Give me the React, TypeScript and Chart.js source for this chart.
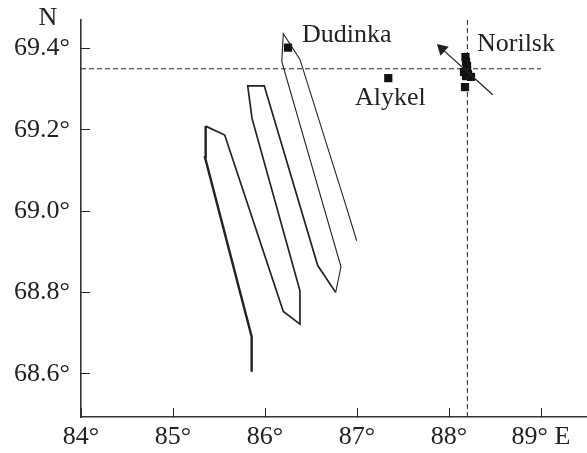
import React, { useEffect, useRef } from "react";
import { Chart, registerables } from "chart.js";

Chart.register(...registerables);

const xTicks = [84, 85, 86, 87, 88, 89];
const yTicks = [68.6, 68.8, 69.0, 69.2, 69.4];
const trackThick = [
  { x: 85.855, y: 68.605 }, { x: 85.855, y: 68.691 }, { x: 85.348, y: 69.132 }, { x: 85.355, y: 69.209 },
];
const trackMedium = [
  { x: 85.355, y: 69.209 }, { x: 85.562, y: 69.187 }, { x: 86.199, y: 68.753 }, { x: 86.38, y: 68.722 },
  { x: 86.38, y: 68.804 }, { x: 85.859, y: 69.228 }, { x: 85.812, y: 69.308 }, { x: 85.992, y: 69.308 },
  { x: 86.573, y: 68.866 }, { x: 86.768, y: 68.8 },
];
const trackThin = [
  { x: 86.768, y: 68.8 }, { x: 86.826, y: 68.863 }, { x: 86.182, y: 69.368 }, { x: 86.199, y: 69.436 },
  { x: 86.38, y: 69.373 }, { x: 86.87, y: 69.02 }, { x: 86.997, y: 68.927 },
];
const refHorizontal = [{ x: 84, y: 69.35 }, { x: 89, y: 69.35 }];
const refVertical = [{ x: 88.2, y: 68.4935 }, { x: 88.2, y: 69.47 }];
const cityPoints = [
  { x: 86.25, y: 69.402 }, { x: 87.34, y: 69.327 },
  { x: 88.179, y: 69.379 }, { x: 88.185, y: 69.367 }, { x: 88.196, y: 69.357 }, { x: 88.196, y: 69.347 },
  { x: 88.163, y: 69.342 }, { x: 88.207, y: 69.337 }, { x: 88.239, y: 69.33 }, { x: 88.185, y: 69.332 },
  { x: 88.174, y: 69.305 },
];
const windArrow = [{ x: 88.475, y: 69.286 }, { x: 87.924, y: 69.399 }];
const cityLabels = [
  { text: "Dudinka", x: 86.402, y: 69.433 },
  { text: "Alykel", x: 86.978, y: 69.278 },
  { text: "Norilsk", x: 88.304, y: 69.411 },
];

const FONT = '"Liberation Serif"';
const INK = "#222222";

const labelsPlugin = {
  id: "cityText",
  afterDatasetsDraw(chart: any) {
    const { ctx, scales } = chart;
    ctx.save();
    ctx.fillStyle = INK;
    ctx.font = `26px ${FONT}`;
    ctx.textBaseline = "middle";
    ctx.textAlign = "left";
    cityLabels.forEach((l) => ctx.fillText(l.text, scales.x.getPixelForValue(l.x), scales.y.getPixelForValue(l.y)));
    ctx.textAlign = "center";
    ctx.fillText("N", 48, 18);
    ctx.restore();
  },
};

export default function App() {
  const ref = useRef<HTMLCanvasElement>(null);
  useEffect(() => {
    const line = (data: any[], borderWidth: number, extra: any = {}) => ({
      type: "scatter",
      data,
      showLine: true,
      borderColor: INK,
      backgroundColor: INK,
      borderWidth,
      pointRadius: 0,
      tension: 0,
      ...extra,
    });
    const chart = new Chart(ref.current as HTMLCanvasElement, {
      type: "scatter",
      data: {
        datasets: [
          line(refHorizontal, 1, { borderDash: [5, 3] }),
          line(refVertical, 1, { borderDash: [5, 3] }),
          line(trackThick, 2.4),
          line(trackMedium, 1.7),
          line(trackThin, 1.1),
          line(windArrow, 1.3, {
            pointStyle: "triangle",
            pointRadius: [0, 7],
            pointRotation: -47,
            pointBackgroundColor: INK,
            pointBorderColor: INK,
            pointBorderWidth: 0,
          }),
          {
            type: "scatter",
            data: cityPoints,
            pointStyle: "rect",
            pointRadius: 5.8,
            pointBackgroundColor: "#111111",
            pointBorderWidth: 0,
          },
        ],
      } as any,
      options: {
        responsive: false,
        animation: false,
        layout: { autoPadding: false, padding: { top: 20, right: 0, left: 0, bottom: 0 } },
        plugins: { legend: { display: false }, tooltip: { enabled: false } },
        scales: {
          x: {
            type: "linear",
            min: 84,
            max: 89.5,
            afterFit: (s: any) => { s.height = 36; s.paddingLeft = 0; s.paddingRight = 0; },
            afterBuildTicks: (s: any) => { s.ticks = xTicks.map((value) => ({ value })); },
            grid: { drawOnChartArea: false, drawTicks: true, tickLength: -9, color: INK, lineWidth: 1 },
            border: { color: "#333333", width: 1.6 },
            ticks: {
              color: INK,
              padding: 14,
              maxRotation: 0,
              font: { family: FONT, size: 26 },
              callback: (v: any) => (v === 89 ? "89° E" : `${v}°`),
            },
          },
          y: {
            type: "linear",
            min: 68.4935,
            max: 69.47,
            afterFit: (s: any) => { s.width = 81; s.paddingTop = 0; s.paddingBottom = 0; },
            afterBuildTicks: (s: any) => { s.ticks = yTicks.map((value) => ({ value })); },
            grid: { drawOnChartArea: false, drawTicks: true, tickLength: -9, color: INK, lineWidth: 1 },
            border: { color: "#333333", width: 1.6 },
            ticks: {
              color: INK,
              padding: 20,
              font: { family: FONT, size: 26 },
              callback: (v: any) => `${Number(v).toFixed(1)}°`,
            },
          },
        },
      },
      plugins: [labelsPlugin],
    } as any);
    return () => chart.destroy();
  }, []);
  return (
    <div style={{ position: "absolute", left: 0, top: 0, width: 587, height: 453, background: "#fff" }}>
      <canvas ref={ref} width={587} height={453} style={{ display: "block" }} />
    </div>
  );
}
